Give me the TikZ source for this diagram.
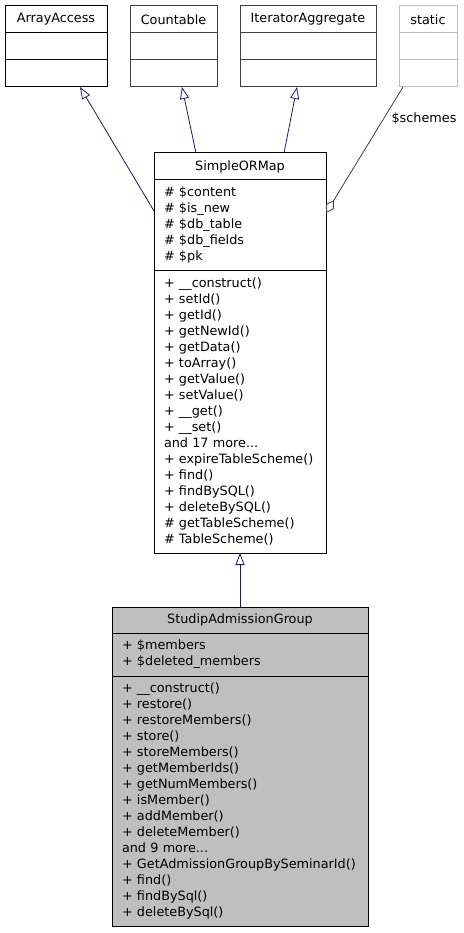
\documentclass[tikz,border=0pt]{standalone}
\usepackage{fontspec}
\setmainfont{DejaVu Sans}
\usepackage{tikz}
\usetikzlibrary {positioning}
\usetikzlibrary {arrows.meta}

\definecolor{edgeblue}{HTML}{191970}
\definecolor{boxgray}{HTML}{BFBFBF}
\definecolor{darkline}{HTML}{404040}

\tikzset{
  box/.style={rectangle, draw, outer sep=0pt, inner xsep=10pt, inner ysep=0pt,
    line width=1pt, font=\fontsize{12.8}{16}\selectfont},
  members/.style={box, text width=#1, align=left},
  inherit/.style={draw=edgeblue, line width=0.8pt, -{Triangle[open, length=12pt, width=9pt]}},
  uses/.style={draw=darkline, line width=0.8pt, -{Diamond[open, length=15pt, width=9pt]}},
}

\begin{document}
\begin{tikzpicture}[x=1pt, y=-1pt]
\useasboundingbox (0,0) rectangle (463,933);

%interfaces
\node [box, minimum width=102pt, minimum height=27pt, anchor=north west] (aa) at (5,6) {ArrayAccess};
\node [box, minimum width=102pt, minimum height=27pt] (aa_attr) [below=0pt of aa] {};
\node [box, minimum width=102pt, minimum height=27pt] (aa_meth) [below=0pt of aa_attr] {};

\node [box, draw=darkline, minimum width=87pt, minimum height=27pt, anchor=north west] (cnt) at (130,6) {Countable};
\node [box, draw=darkline, minimum width=87pt, minimum height=27pt] (cnt_attr) [below=0pt of cnt] {};
\node [box, draw=darkline, minimum width=87pt, minimum height=27pt] (cnt_meth) [below=0pt of cnt_attr] {};

\node [box, draw=darkline, minimum width=136pt, minimum height=27pt, anchor=north west] (ia) at (240,6) {IteratorAggregate};
\node [box, draw=darkline, minimum width=136pt, minimum height=27pt] (ia_attr) [below=0pt of ia] {};
\node [box, draw=darkline, minimum width=136pt, minimum height=27pt] (ia_meth) [below=0pt of ia_attr] {};

\node [box, draw=boxgray, minimum width=58pt, minimum height=27pt, anchor=north west] (st) at (399,6) {static};
\node [box, draw=boxgray, minimum width=58pt, minimum height=27pt] (st_attr) [below=0pt of st] {};
\node [box, draw=boxgray, minimum width=58pt, minimum height=27pt] (st_meth) [below=0pt of st_attr] {};

%base class
\node [box, minimum width=172pt, minimum height=27pt, anchor=north west] (som) at (154,153) {SimpleORMap};
\node [members=152pt, minimum height=90pt] (som_attr) [below=0pt of som]
  {\# \$content\\\# \$is\_new\\\# \$db\_table\\\# \$db\_fields\\\# \$pk};
\node [members=152pt, minimum height=283pt] (som_meth) [below=0pt of som_attr]
  {+ \_\_construct()\\+ setId()\\+ getId()\\+ getNewId()\\+ getData()\\+ toArray()\\+ getValue()\\+ setValue()\\+ \_\_get()\\+ \_\_set()\\and 17 more...\\+ expireTableScheme()\\+ find()\\+ findBySQL()\\+ deleteBySQL()\\\# getTableScheme()\\\# TableScheme()};

%derived class
\node [box, fill=boxgray, minimum width=256pt, minimum height=26pt, anchor=north west] (sag) at (112,607) {StudipAdmissionGroup};
\node [members=236pt, fill=boxgray, minimum height=43pt] (sag_attr) [below=0pt of sag]
  {+ \$members\\+ \$deleted\_members};
\node [members=236pt, fill=boxgray, minimum height=250pt] (sag_meth) [below=0pt of sag_attr]
  {+ \_\_construct()\\+ restore()\\+ restoreMembers()\\+ store()\\+ storeMembers()\\+ getMemberIds()\\+ getNumMembers()\\+ isMember()\\+ addMember()\\+ deleteMember()\\and 9 more...\\+ GetAdmissionGroupBySeminarId()\\+ find()\\+ findBySql()\\+ deleteBySql()};

%inheritance
\draw [inherit] ([yshift=14pt]som_attr.west) to ([xshift=24pt]aa_meth.south);
\draw [inherit] ([xshift=-44pt]som.north) to ([xshift=8.5pt]cnt_meth.south);
\draw [inherit] ([xshift=44pt]som.north) to ([xshift=-11pt]ia_meth.south);
\draw [inherit] (sag.north) to (som_meth.south);

%aggregation
\node [font=\fontsize{12.8}{16}\selectfont] (schemes) at (424,119) {\$schemes};
\draw [uses] ([xshift=-25pt]st_meth.south) to ([yshift=12pt]som_attr.east);

\end{tikzpicture}
\end{document}
